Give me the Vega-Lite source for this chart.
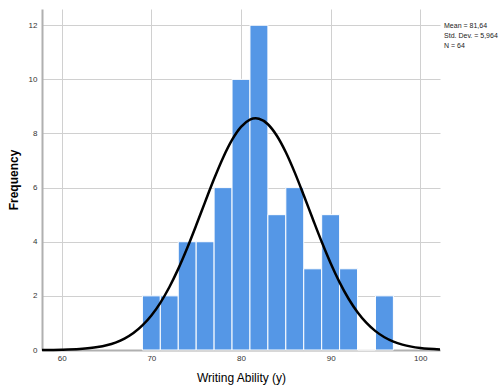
{
  "$schema": "https://vega.github.io/schema/vega-lite/v6.json",
  "width": 398,
  "height": 341,
  "autosize": {"type": "none"},
  "padding": {"left": 42, "top": 9, "right": 63, "bottom": 38},
  "background": "white",
  "config": {
    "font": "Liberation Sans",
    "view": {"stroke": null},
    "axis": {
      "gridColor": "#d0d0d0",
      "gridWidth": 1,
      "domainColor": "#b0b0b0",
      "domainWidth": 2,
      "ticks": false,
      "labelColor": "#333333",
      "labelFontSize": 8,
      "titleColor": "#000000"
    }
  },
  "datasets": {
    "bins": [
      {"bin_start": 69, "bin_end": 71, "count": 2},
      {"bin_start": 71, "bin_end": 73, "count": 2},
      {"bin_start": 73, "bin_end": 75, "count": 4},
      {"bin_start": 75, "bin_end": 77, "count": 4},
      {"bin_start": 77, "bin_end": 79, "count": 6},
      {"bin_start": 79, "bin_end": 81, "count": 10},
      {"bin_start": 81, "bin_end": 83, "count": 12},
      {"bin_start": 83, "bin_end": 85, "count": 5},
      {"bin_start": 85, "bin_end": 87, "count": 6},
      {"bin_start": 87, "bin_end": 89, "count": 3},
      {"bin_start": 89, "bin_end": 91, "count": 5},
      {"bin_start": 91, "bin_end": 93, "count": 3},
      {"bin_start": 93, "bin_end": 95, "count": 0},
      {"bin_start": 95, "bin_end": 97, "count": 2}
    ],
    "curve": [
      {"x": 57.8, "y": 0.0029},
      {"x": 60, "y": 0.0118},
      {"x": 62, "y": 0.0378},
      {"x": 64, "y": 0.108},
      {"x": 65, "y": 0.175},
      {"x": 66, "y": 0.275},
      {"x": 67, "y": 0.421},
      {"x": 68, "y": 0.626},
      {"x": 69, "y": 0.906},
      {"x": 70, "y": 1.275},
      {"x": 71, "y": 1.744},
      {"x": 72, "y": 2.319},
      {"x": 73, "y": 2.998},
      {"x": 74, "y": 3.769},
      {"x": 75, "y": 4.607},
      {"x": 76, "y": 5.475},
      {"x": 77, "y": 6.326},
      {"x": 78, "y": 7.107},
      {"x": 79, "y": 7.763},
      {"x": 80, "y": 8.244},
      {"x": 81, "y": 8.513},
      {"x": 81.64, "y": 8.562},
      {"x": 82, "y": 8.546},
      {"x": 83, "y": 8.342},
      {"x": 84, "y": 7.917},
      {"x": 85, "y": 7.306},
      {"x": 86, "y": 6.554},
      {"x": 87, "y": 5.717},
      {"x": 88, "y": 4.849},
      {"x": 89, "y": 3.998},
      {"x": 90, "y": 3.206},
      {"x": 91, "y": 2.499},
      {"x": 92, "y": 1.894},
      {"x": 93, "y": 1.396},
      {"x": 94, "y": 1.0},
      {"x": 95, "y": 0.697},
      {"x": 96, "y": 0.472},
      {"x": 97, "y": 0.311},
      {"x": 98, "y": 0.199},
      {"x": 99, "y": 0.124},
      {"x": 100, "y": 0.075},
      {"x": 102.2, "y": 0.0225}
    ],
    "notes": [
      {"x": 102.65, "y": 11.96, "label": "Mean = 81,64"},
      {"x": 102.65, "y": 11.6, "label": "Std. Dev. = 5,964"},
      {"x": 102.65, "y": 11.25, "label": "N = 64"}
    ]
  },
  "layer": [
    {
      "data": {"name": "bins"},
      "mark": {"type": "rect", "color": "#5597e6", "stroke": "white", "strokeWidth": 1},
      "encoding": {
        "x": {
          "field": "bin_start",
          "type": "quantitative",
          "scale": {"domain": [57.8, 102.2], "nice": false, "zero": false},
          "axis": {
            "values": [60, 70, 80, 90, 100],
            "title": "Writing Ability (y)",
            "titleFontSize": 12,
            "titleFontWeight": "normal",
            "titlePadding": 10,
            "labelPadding": 4
          }
        },
        "x2": {"field": "bin_end"},
        "y": {
          "field": "count",
          "type": "quantitative",
          "scale": {"domain": [0, 12.6], "nice": false},
          "axis": {
            "values": [0, 2, 4, 6, 8, 10, 12],
            "title": "Frequency",
            "titleFontSize": 12,
            "titleFontWeight": "bold",
            "titlePadding": 8,
            "labelPadding": 5
          }
        },
        "y2": {"datum": 0}
      }
    },
    {
      "data": {"name": "curve"},
      "mark": {"type": "line", "color": "black", "strokeWidth": 2.5, "interpolate": "monotone"},
      "encoding": {
        "x": {"field": "x", "type": "quantitative"},
        "y": {"field": "y", "type": "quantitative"}
      }
    },
    {
      "data": {"name": "notes"},
      "mark": {"type": "text", "align": "left", "baseline": "middle", "fontSize": 7, "color": "#222222"},
      "encoding": {
        "x": {"field": "x", "type": "quantitative"},
        "y": {"field": "y", "type": "quantitative"},
        "text": {"field": "label"}
      }
    }
  ]
}
